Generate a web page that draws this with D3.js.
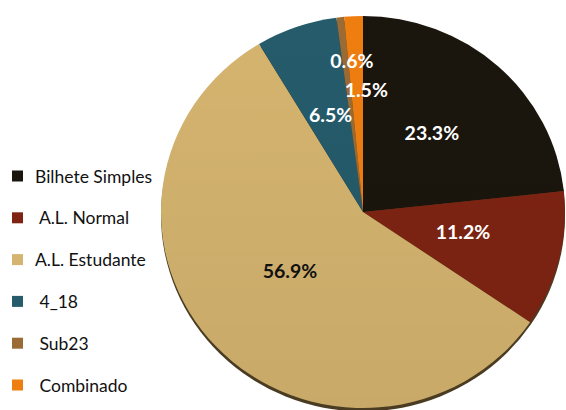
<!DOCTYPE html>
<html><head><meta charset="utf-8">
<script src="https://cdn.jsdelivr.net/npm/d3@7"></script>
<style>html,body{margin:0;padding:0;background:#fff}svg{display:block}</style>
</head><body><svg id="c" width="566" height="410"></svg>
<script>
const categories = ["Bilhete Simples", "A.L. Normal", "A.L. Estudante", "4_18", "Sub23", "Combinado"];
const legendLabels = ["Bilhete Simples", " A.L. Normal", "A.L. Estudante", " 4_18", " Sub23", " Combinado"];
const values = [23.3, 11.2, 56.9, 6.5, 0.6, 1.5];
const colors = ["#1a160d", "#7f2413", "#d5b46f", "#255b6b", "#9a6b35", "#ef7e10"];
const labelColors = ["#fff", "#fff", "#111", "#fff", "#fff", "#fff"];

// layout
const cx = 363, cy = 212, R = 202, sy = 196 / 202;
const labelRadius = [0.51, 0.51, 0.47, 0.5, 0.75, 0.6];
const labelDx = [0, 0, -4, 1, 6, 9];
const labelDy = -5;

const svg = d3.select("#c");
const defs = svg.append("defs");
const g = defs.append("linearGradient").attr("id", "shade").attr("x1", 0).attr("y1", 0).attr("x2", 0).attr("y2", 1);
g.append("stop").attr("offset", "0%").attr("stop-color", "#000").attr("stop-opacity", 0);
g.append("stop").attr("offset", "100%").attr("stop-color", "#000").attr("stop-opacity", 0.06);

const pie = d3.pie().sort(null).value(d => d)(values);
const arc = d3.arc().innerRadius(0).outerRadius(R);

const pg = svg.append("g").attr("transform", `translate(${cx},${cy}) scale(1,${sy})`);
// bottom bevel shadow
pg.append("circle").attr("cx", 0).attr("cy", 3.5).attr("r", R).attr("fill", "#4a3c22");
pg.selectAll("path.s").data(pie).join("path").attr("class", "s")
  .attr("d", arc).attr("fill", (d, i) => colors[i]);
pg.append("circle").attr("r", R).attr("fill", "url(#shade)");

// labels
const cen = (d, i) => d3.arc().innerRadius(0).outerRadius(2 * R * labelRadius[i]).centroid(d);
svg.append("g").selectAll("text").data(pie).join("text")
  .attr("x", (d, i) => cx + cen(d, i)[0] + labelDx[i])
  .attr("y", (d, i) => cy + cen(d, i)[1] * sy + labelDy)
  .attr("text-anchor", "middle").attr("dominant-baseline", "central")
  .attr("font-family", "Lato, 'Open Sans', sans-serif").attr("font-weight", "bold")
  .attr("font-size", 19.5).attr("fill", (d, i) => labelColors[i])
  .text(d => d.data.toFixed(1) + "%");

// legend
const ly = d3.scalePoint().domain(categories).range([176, 385]);
const lg = svg.append("g").selectAll("g").data(categories).join("g")
  .attr("transform", d => `translate(0,${ly(d)})`);
lg.append("rect").attr("x", 12).attr("y", -5.5).attr("width", 11).attr("height", 11)
  .attr("fill", (d, i) => colors[i]);
lg.append("text").attr("x", 35).attr("y", 0).attr("dominant-baseline", "central")
  .attr("font-family", "Lato, 'Open Sans', sans-serif").attr("font-size", 17.5).attr("fill", "#111")
  .style("white-space", "pre")
  .text((d, i) => legendLabels[i]);
</script></body></html>
